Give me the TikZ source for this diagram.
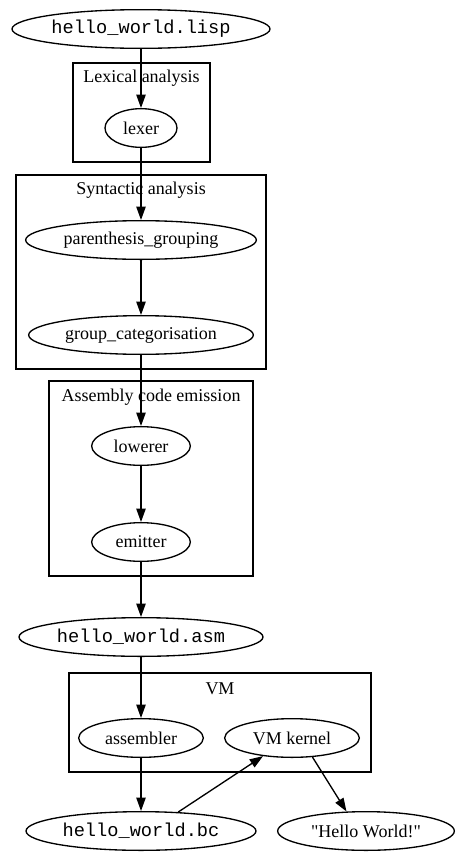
\documentclass[tikz,border=0pt]{standalone}
\usepackage{fontspec}
\setmainfont{Liberation Serif}[Ligatures=TeXOff]
\setmonofont{Liberation Mono}
\usetikzlibrary{shapes, arrows.meta}

\begin{document}
\begin{tikzpicture}[x=0.75pt,y=-0.75pt,line width=1pt]

\tikzstyle{file}=[ellipse, draw, inner sep=0pt, minimum height=29pt, font=\ttfamily\fontsize{14pt}{16pt}\selectfont]
\tikzstyle{stage}=[ellipse, draw, inner sep=0pt, minimum height=29pt, font=\fontsize{13.5pt}{16pt}\selectfont]
\tikzstyle{cluster}=[draw, line width=1pt]
\tikzstyle{title}=[inner sep=0pt, font=\fontsize{13.5pt}{16pt}\selectfont]
\tikzstyle{flow}=[-{Triangle[length=10pt,width=7pt]}]

	\useasboundingbox (0,0) rectangle (460,864);

	% clusters
	\draw[cluster] (73,63)  rectangle (210,162);
	\draw[cluster] (16,175) rectangle (266,369);
	\draw[cluster] (49,381) rectangle (253,576);
	\draw[cluster] (69,673) rectangle (371,772);

	\node[title] (lexical)  at (141.5,78) {Lexical analysis};
	\node[title] (syntax)   at (141,190)  {Syntactic analysis};
	\node[title] (emission) at (151,397)  {Assembly code emission};
	\node[title] (vm)       at (220,689)  {VM};

	\node[file]  (lisp)      at (141,29)  [minimum width=193.5pt] {hello\_world.lisp};
	\node[stage] (lexer)     at (141,128) [minimum width=54pt]    {lexer};
	\node[stage] (paren)     at (141,240) [minimum width=173pt]   {parenthesis\_grouping};
	\node[stage] (group)     at (141,335) [minimum width=168.5pt] {group\_categorisation};
	\node[stage] (lowerer)   at (141,446) [minimum width=74pt]    {lowerer};
	\node[stage] (emitter)   at (141,542) [minimum width=74pt]    {emitter};
	\node[file]  (asm)       at (141,637) [minimum width=183pt]   {hello\_world.asm};
	\node[stage] (assembler) at (141,738) [minimum width=93.5pt]  {assembler};
	\node[stage] (kernel)    at (292,738) [minimum width=101pt]   {VM kernel};
	\node[file]  (bc)        at (141,831) [minimum width=172.5pt] {hello\_world.bc};
	\node[stage] (hello)     at (366,831) [minimum width=132.5pt] {"Hello World!"};

	% pipeline
	\draw[flow] (lisp) -- (lexer);
	\draw[flow] (lexer) -- (paren);
	\draw[flow] (paren) -- (group);
	\draw[flow] (group) -- (lowerer);
	\draw[flow] (lowerer) -- (emitter);
	\draw[flow] (emitter) -- (asm);
	\draw[flow] (asm) -- (assembler);
	\draw[flow] (assembler) -- (bc);
	\draw[flow] (bc.27) -- (kernel.212);
	\draw[flow] (kernel.317) -- (hello.135);
\end{tikzpicture}
\end{document}
